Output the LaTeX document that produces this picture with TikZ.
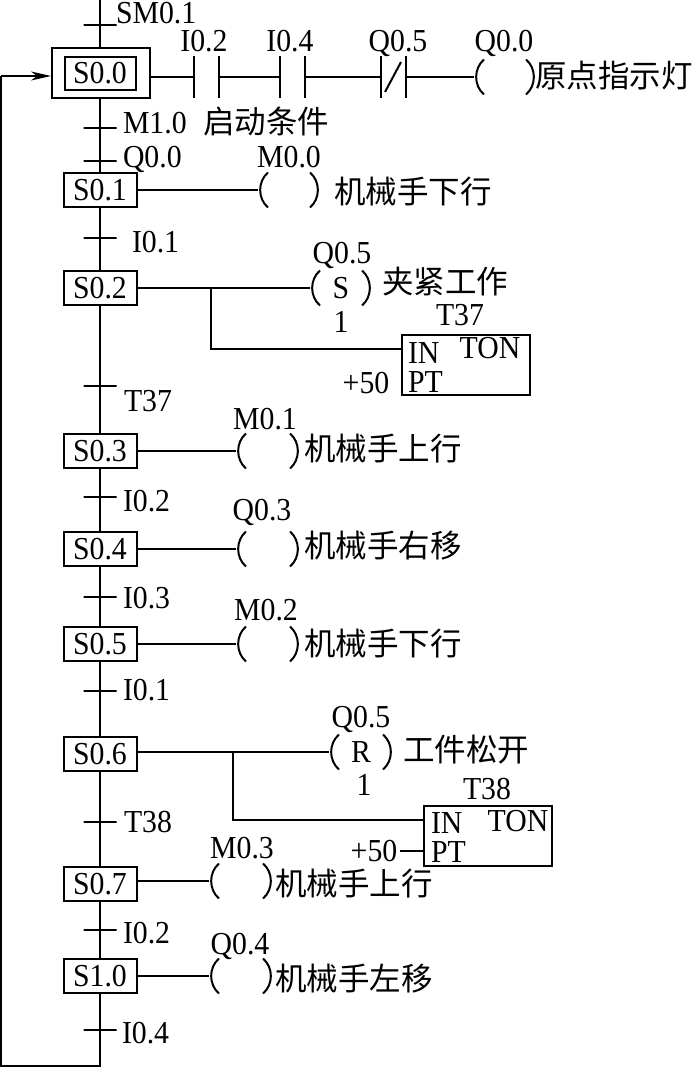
\documentclass[tikz,border=0pt]{standalone}
\usepackage{fontspec}
\setmainfont[FakeStretch=0.93]{Liberation Serif}
\newfontfamily\cjk{Noto Sans CJK SC}
\usetikzlibrary{arrows.meta,positioning,calc}
\tikzset{
  every node/.style={font=\fontsize{32}{34}\selectfont,inner sep=0pt},
  stepbox/.style={draw,line width=2pt,fill=white,minimum width=73pt,minimum height=34pt},
  initbox/.style={draw,line width=2pt,fill=white,minimum width=98pt,minimum height=50pt},
  tick/.style={draw,line width=1.8pt,minimum width=33pt,minimum height=0pt,outer sep=0pt},
  contact/.style={minimum width=25pt,minimum height=42pt,outer sep=0pt,
    append after command={(\tikzlastnode.north west) edge (\tikzlastnode.south west)
      (\tikzlastnode.north east) edge (\tikzlastnode.south east)}},
  coil/.style={minimum width=#1,minimum height=35pt,outer sep=0pt,
    append after command={([xshift=10pt]\tikzlastnode.north west) edge[bend right=50] ([xshift=10pt]\tikzlastnode.south west)
      ([xshift=-10pt]\tikzlastnode.north east) edge[bend left=50] ([xshift=-10pt]\tikzlastnode.south east)}},
  tonbox/.style={draw,line width=2pt,minimum width=128pt,minimum height=60pt},
  cjklabel/.style={anchor=west,font=\cjk\fontsize{31.5}{33}\selectfont},
  leftlabel/.style={anchor=west},
  wire/.style={line width=2pt},
  feedback/.style={wire,-{Stealth[length=20pt,width=9pt,inset=6pt]}}
}
\begin{document}
\begin{tikzpicture}[x=1pt,y=-1pt,line width=2pt]
  \useasboundingbox (0,0) rectangle (694,1067);
  \coordinate (top) at (100,0);

  \node[initbox] (s00) at (101,73) {};
  \node[stepbox,minimum width=71pt,minimum height=33pt] (s00in) at (100,73.5) {S0.0};
  \node[stepbox] (s01) at (100,190) {S0.1};
  \node[stepbox] (s02) at (100,288) {S0.2};
  \node[stepbox] (s03) at (100,451) {S0.3};
  \node[stepbox] (s04) at (100,549) {S0.4};
  \node[stepbox] (s05) at (100,644) {S0.5};
  \node[stepbox] (s06) at (100,754) {S0.6};
  \node[stepbox] (s07) at (100,884) {S0.7};
  \node[stepbox] (s10) at (100,976) {S1.0};

  \node[tick] (t0) at (100,25) {};
  \node[tick] (t1) at (100,128) {};
  \node[tick] (t2) at (100,161) {};
  \node[tick] (t3) at (100,238) {};
  \node[tick] (t4) at (100,386) {};
  \node[tick] (t5) at (100,497) {};
  \node[tick] (t6) at (100,597) {};
  \node[tick] (t7) at (100,691) {};
  \node[tick] (t8) at (100,822) {};
  \node[tick] (t9) at (100,930) {};
  \node[tick] (t10) at (100,1030) {};

  \node[leftlabel] (l0) at (115,13) {SM0.1};
  \node[leftlabel] (l1) at (122,123) {M1.0};
  \node[leftlabel] (l2) at (122,159) {Q0.0};
  \node[leftlabel] (l3) at (131,242) {I0.1};
  \node[leftlabel] (l4) at (123,401) {T37};
  \node[leftlabel] (l5) at (122,501) {I0.2};
  \node[leftlabel] (l6) at (122,598) {I0.3};
  \node[leftlabel] (l7) at (122,690) {I0.1};
  \node[leftlabel] (l8) at (123,822) {T38};
  \node[leftlabel] (l9) at (122,933) {I0.2};
  \node[leftlabel] (l10) at (121,1033) {I0.4};

  \draw[wire] (top)--(t0);
  \draw[wire] (t0)--(s00.north-|t0);
  \draw[wire] (s00.south-|t1)--(t1);
  \draw[wire] (t1)--(t2);
  \draw[wire] (t2)--(s01.north);
  \draw[wire] (s01.south)--(t3);
  \draw[wire] (t3)--(s02.north);
  \draw[wire] (s02.south)--(t4);
  \draw[wire] (t4)--(s03.north);
  \draw[wire] (s03.south)--(t5);
  \draw[wire] (t5)--(s04.north);
  \draw[wire] (s04.south)--(t6);
  \draw[wire] (t6)--(s05.north);
  \draw[wire] (s05.south)--(t7);
  \draw[wire] (t7)--(s06.north);
  \draw[wire] (s06.south)--(t8);
  \draw[wire] (t8)--(s07.north);
  \draw[wire] (s07.south)--(t9);
  \draw[wire] (t9)--(s10.north);
  \draw[wire] (s10.south)--(t10);

  \coordinate (fb1) at (100,1066);
  \coordinate (fb2) at (1,1066);
  \coordinate (fb3) at (1,76);
  \coordinate (fb4) at (s00.west |- fb3);
  \draw[wire] (t10)--(fb1)--(fb2)--(fb3);
  \draw[feedback] (fb3)--(fb4);

  \node[contact] (i02) at (206.5,77) {};
  \node[contact] (i04) at (292.5,77) {};
  \node[contact] (q05) at (393,77) {};
  \draw[wire] (385,92)--(401,62);
  \node[coil=62pt] (q00) at (505,77) {};
  \draw[wire] (s00.east|-i02)--(i02.west);
  \draw[wire] (i02.east)--(i04.west);
  \draw[wire] (i04.east)--(q05.west);
  \draw[wire] (q05.east)--(q00.west);
  \node (n1) at (204,41) {I0.2};
  \node (n2) at (290,41) {I0.4};
  \node (n3) at (398,43) {Q0.5};
  \node (n4) at (504,43) {Q0.0};
  \node[cjklabel] (c1) at (534,76) {原点指示灯};
  \node[cjklabel] (c2) at (202,122) {启动条件};

  \node[coil=62pt] (m00) at (289,190) {};
  \draw[wire] (s01)--(m00.west);
  \node (n5) at (289,157) {M0.0};
  \node[cjklabel] (c3) at (333,192) {机械手下行};

  \node[coil=62pt] (q05s) at (341,288) {S};
  \coordinate (j2) at (211,288);
  \coordinate (ton1in) at (401,349);
  \node[tonbox,anchor=north west] (ton1) at (401,334) {};
  \draw[wire] (s02)--(q05s.west);
  \draw[wire] (j2)|-(ton1in);
  \node (n6) at (342,255) {Q0.5};
  \node (n7) at (341,322) {1};
  \node (n8) at (460,315) {T37};
  \node[leftlabel] (ton1a) at (407,353) {IN};
  \node (ton1b) at (490,348) {TON};
  \node[leftlabel] (ton1c) at (407,382) {PT};
  \node (ton1d) at (366,383) {+50};
  \node[cjklabel] (c4) at (381,282) {夹紧工作};

  \node[coil=64pt] (m01) at (268,451) {};
  \draw[wire] (s03)--(m01.west);
  \node (n9) at (265,419) {M0.1};
  \node[cjklabel] (c5) at (303,449) {机械手上行};

  \node[coil=64pt] (q03) at (268,549) {};
  \draw[wire] (s04)--(q03.west);
  \node (n10) at (262,512) {Q0.3};
  \node[cjklabel] (c6) at (303,546) {机械手右移};

  \node[coil=64pt] (m02) at (268,644) {};
  \draw[wire] (s05)--(m02.west);
  \node (n11) at (266,610) {M0.2};
  \node[cjklabel] (c7) at (303,644) {机械手下行};

  \node[coil=64pt] (q05r) at (361,752) {R};
  \coordinate (j6) at (233,752);
  \coordinate (ton2in) at (423,820);
  \node[tonbox,anchor=north west] (ton2) at (423,805) {};
  \coordinate (ton2pt) at (423,851);
  \coordinate (pt2) at (400,851);
  \draw[wire] (s06.east|-j6)--(q05r.west);
  \draw[wire] (j6)|-(ton2in);
  \draw[wire] (pt2)--(ton2pt);
  \node (n12) at (361,719) {Q0.5};
  \node (n13) at (364,785) {1};
  \node (n14) at (487,789) {T38};
  \node[leftlabel] (ton2a) at (430,823) {IN};
  \node (ton2b) at (518,821) {TON};
  \node[leftlabel] (ton2c) at (430,852) {PT};
  \node (ton2d) at (374,851) {+50};
  \node[cjklabel] (c8) at (402,750) {工件松开};

  \node[coil=64pt] (m03) at (241,881) {};
  \draw[wire] (s07.east|-m03)--(m03.west);
  \node (n15) at (242,848) {M0.3};
  \node[cjklabel] (c9) at (274,884) {机械手上行};

  \node[coil=64pt] (q04) at (241,976) {};
  \draw[wire] (s10)--(q04.west);
  \node (n16) at (240,946) {Q0.4};
  \node[cjklabel] (c10) at (274,979) {机械手左移};
\end{tikzpicture}
\end{document}
